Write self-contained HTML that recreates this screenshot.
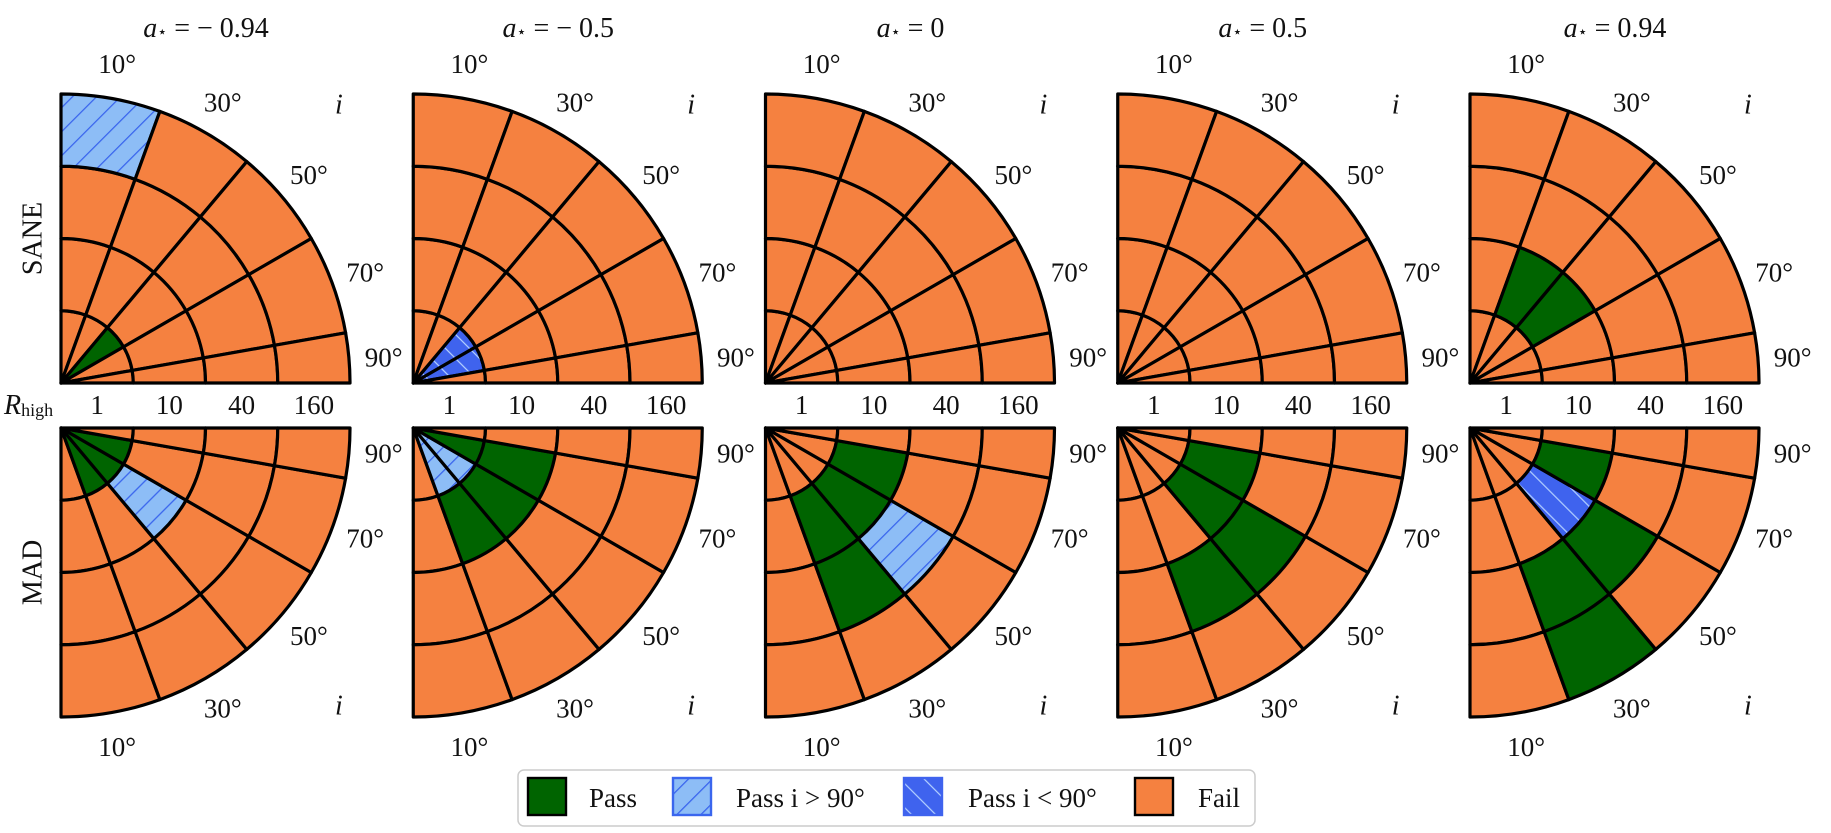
<!DOCTYPE html>
<html><head><meta charset="utf-8"><style>
html,body{margin:0;padding:0;background:#fff;}
svg{display:block;}
text{font-family:"Liberation Serif","DejaVu Serif",serif;fill:#111;}
</style></head><body>
<svg id="chart" width="1831" height="833" viewBox="0 0 1831 833" xmlns="http://www.w3.org/2000/svg">
<defs>
<pattern id="hatchLight" patternUnits="userSpaceOnUse" width="17" height="17" patternTransform="rotate(45)">
<rect width="17" height="17" fill="#8dbdf6"/><line x1="0" y1="0" x2="0" y2="17" stroke="#3a66ee" stroke-width="2.6"/>
</pattern>
<pattern id="hatchRoyal" patternUnits="userSpaceOnUse" width="17" height="17" patternTransform="rotate(-45)">
<rect width="17" height="17" fill="#3f63ee"/><line x1="0" y1="0" x2="0" y2="17" stroke="#b5d2ff" stroke-width="2.4"/>
</pattern>
</defs>
<g id="panels"></g>
<g id="legend">
<rect x="518" y="770" width="737" height="56" rx="6" fill="#fff" stroke="#cccccc" stroke-width="1.5"/>
<g><rect x="528" y="778" width="38" height="37" fill="#006400" stroke="#000" stroke-width="2.4"/><text x="589" y="807" font-size="27">Pass</text></g>
<g><rect x="673" y="778" width="38" height="37" fill="url(#hatchLight)" stroke="#3a66ee" stroke-width="2.4"/><text x="736" y="807" font-size="27">Pass i &gt; 90°</text></g>
<g><rect x="904" y="778" width="38" height="37" fill="url(#hatchRoyal)" stroke="#3f63ee" stroke-width="2.4"/><text x="968" y="807" font-size="27">Pass i &lt; 90°</text></g>
<g><rect x="1135" y="778" width="38" height="37" fill="#f58140" stroke="#000" stroke-width="2.4"/><text x="1198" y="807" font-size="27">Fail</text></g>
</g>
</svg>
<script>
// ---- data ----
const spinLabels = ["− 0.94", "− 0.5", "0", "0.5", "0.94"];
const inclinationEdges = [0, 20, 40, 60, 80, 90];
const inclinationTicks = [10, 30, 50, 70, 90];
const rHighLabels = ["1", "10", "40", "160"];
const modelNames = ["SANE", "MAD"];
// cell codes per ring (inner->outer), per inclination sector: F fail, P pass, H pass i>90, L pass i<90
const saneM094 = ["FFPFF", "FFFFF", "FFFFF", "HFFFF"];
const saneM05  = ["FFLLF", "FFFFF", "FFFFF", "FFFFF"];
const sane0    = ["FFFFF", "FFFFF", "FFFFF", "FFFFF"];
const saneP05  = ["FFFFF", "FFFFF", "FFFFF", "FFFFF"];
const saneP094 = ["FFFFF", "FPPFF", "FFFFF", "FFFFF"];
const madM094  = ["FPPPF", "FFHFF", "FFFFF", "FFFFF"];
const madM05   = ["FHHPF", "FPPPF", "FFFFF", "FFFFF"];
const mad0     = ["FFFFF", "FPPPF", "FPHFF", "FFFFF"];
const madP05   = ["FFFFF", "FFPPF", "FPPFF", "FFFFF"];
const madP094  = ["FFFFF", "FFLPF", "FPPFF", "FPFFF"];
const saneGrids = [saneM094, saneM05, sane0, saneP05, saneP094];
const madGrids = [madM094, madM05, mad0, madP05, madP094];

// ---- layout ----
const NS = "http://www.w3.org/2000/svg";
const root = document.getElementById("panels");
const R = 289, topCY = 383, botCY = 428, left0 = 61, dx = 352.25;
const fills = {F: "#f58140", P: "#006400", H: "url(#hatchLight)", L: "url(#hatchRoyal)"};
const names = {F: "fail", P: "pass", H: "pass-i-gt-90", L: "pass-i-lt-90"};
function rScale(k) { return R * k / rHighLabels.length; }
function pt(cx, cy, dir, r, iDeg) {
  const a = iDeg * Math.PI / 180;
  return [cx + r * Math.sin(a), cy - dir * r * Math.cos(a)];
}
function mk(tag, attrs, parent) {
  const e = document.createElementNS(NS, tag);
  for (const k in attrs) e.setAttribute(k, attrs[k]);
  parent.appendChild(e); return e;
}
function text(parent, x, y, s, size, extra) {
  const t = mk("text", Object.assign({x: x, y: y, "font-size": size, "text-anchor": "middle", "dominant-baseline": "central"}, extra || {}), parent);
  t.textContent = s; return t;
}
function drawPanel(col, row, grid) {
  const cx = left0 + dx * col, cy = row === 0 ? topCY : botCY, dir = row === 0 ? 1 : -1;
  const g = mk("g", {}, root);
  
  
  for (let ring = 0; ring < grid.length; ring++) {
    const r0 = rScale(ring), r1 = rScale(ring + 1);
    for (let s = 0; s < inclinationEdges.length - 1; s++) {
      const a0 = inclinationEdges[s], a1 = inclinationEdges[s + 1];
      const code = grid[ring][s];
      const p0 = pt(cx, cy, dir, r0, a0), p1 = pt(cx, cy, dir, r1, a0), p2 = pt(cx, cy, dir, r1, a1), p3 = pt(cx, cy, dir, r0, a1);
      const sweepOut = dir === 1 ? 1 : 0, sweepIn = 1 - sweepOut;
      let d = `M${p0[0]},${p0[1]} L${p1[0]},${p1[1]} A${r1},${r1} 0 0 ${sweepOut} ${p2[0]},${p2[1]} L${p3[0]},${p3[1]}`;
      if (r0 > 0) d += ` A${r0},${r0} 0 0 ${sweepIn} ${p0[0]},${p0[1]}`;
      d += " Z";
      const c = mk("path", {d: d, fill: fills[code], stroke: "#000", "stroke-width": 3.2, "stroke-linejoin": "round"}, g);
      
      
    }
  }
  for (const iv of inclinationTicks) {
    const p = pt(cx, cy, dir, R * 1.12, Math.min(iv, 85.5));
    const t = text(g, p[0], p[1], iv + "°", 27);
    
    
  }
  const pi = pt(cx, cy, dir, 393, 45);
  const ti = text(g, pi[0], pi[1], "i", 28, {"font-style": "italic"});
  
  
  if (row === 0) {
    for (let k = 0; k < rHighLabels.length; k++) {
      const t = text(g, cx + (rScale(k) + rScale(k + 1)) / 2, 405, rHighLabels[k], 27);
      
      
    }
    const tt = mk("text", {x: cx + 145, y: 28, "font-size": 28, "text-anchor": "middle", "dominant-baseline": "central"}, g);
    tt.innerHTML = '<tspan font-style="italic">a</tspan><tspan font-size="16" dy="4">⋆</tspan><tspan dy="-4"> = ' + spinLabels[col] + '</tspan>';
    
    
  }
}
for (let c = 0; c < 5; c++) { drawPanel(c, 0, saneGrids[c]); drawPanel(c, 1, madGrids[c]); }
const s1 = text(root, 33, topCY - R / 2, modelNames[0], 28, {transform: `rotate(-90 33 ${topCY - R / 2})`});


const s2 = text(root, 33, botCY + R / 2, modelNames[1], 28, {transform: `rotate(-90 33 ${botCY + R / 2})`});


const rh = mk("text", {x: 4, y: 405, "font-size": 28, "dominant-baseline": "central"}, root);
rh.innerHTML = '<tspan font-style="italic">R</tspan><tspan font-size="18" dy="5">high</tspan>';


</script>
</body></html>
